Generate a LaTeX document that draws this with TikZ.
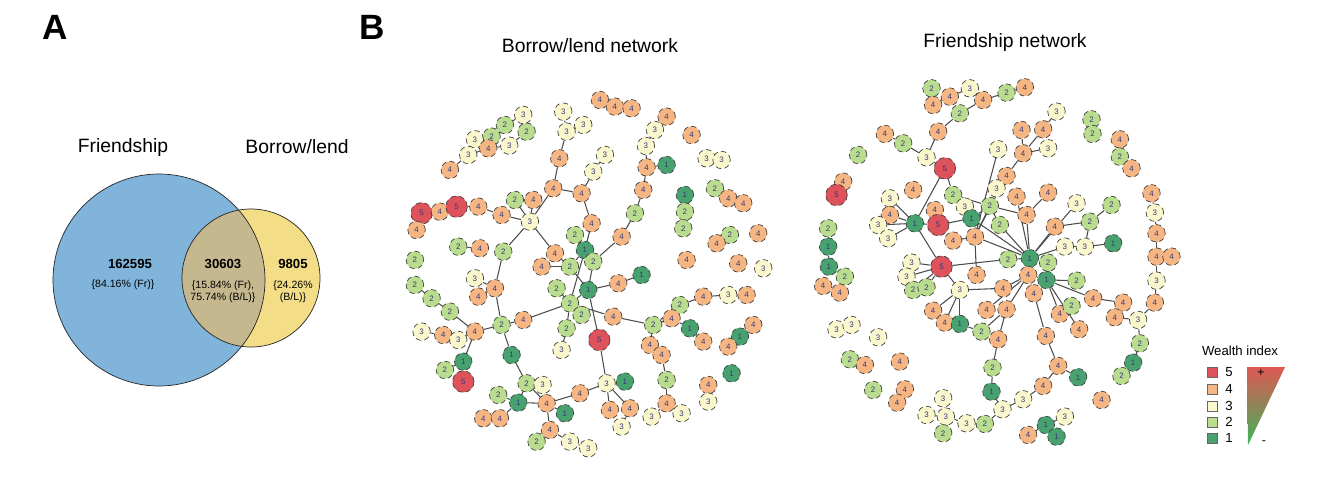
\documentclass[tikz,border=0pt]{standalone}
\usepackage{fontspec}
\setmainfont{Liberation Sans}
\usetikzlibrary{backgrounds}
\definecolor{frblue}{RGB}{128,180,218}
\definecolor{blyellow}{RGB}{243,221,135}
\definecolor{overlap}{RGB}{198,184,142}
\definecolor{wfive}{RGB}{222,82,92}
\definecolor{wfour}{RGB}{245,182,132}
\definecolor{wthree}{RGB}{250,247,205}
\definecolor{wtwo}{RGB}{186,220,142}
\definecolor{wone}{RGB}{72,162,112}
\definecolor{numink}{RGB}{55,55,120}
\tikzset{
  wbase/.style={circle, draw=black!75, densely dashed, thin, inner sep=0pt,
                minimum size=0.35cm, text=numink, font=\fontsize{4.5}{5}\selectfont},
  w1/.style={wbase, fill=wone},
  w2/.style={wbase, fill=wtwo},
  w3/.style={wbase, fill=wthree},
  w4/.style={wbase, fill=wfour},
  w5/.style={wbase, fill=wfive, minimum size=0.43cm},
  link/.style={draw=black!70, line width=0.6pt},
  keybox/.style={draw=black!60, minimum size=0.2cm, inner sep=0pt},
}
\begin{document}
\begin{tikzpicture}[x=0.02cm, y=-0.02cm]
\useasboundingbox (0,0) rectangle (1342,484);
% panel letters and titles
\node[font=\bfseries\fontsize{20}{22}\selectfont] (lblA) at (55,27) {A};
\node[font=\bfseries\fontsize{20}{22}\selectfont] (lblB) at (372,27) {B};
\node[font=\fontsize{11}{12}\selectfont] (ttlBL) at (590,46) {Borrow/lend network};
\node[font=\fontsize{11}{12}\selectfont] (ttlFR) at (1005,42) {Friendship network};

% Venn diagram
\fill[frblue] (159,280) circle[radius=106];
\fill[blyellow] (251,278) circle[radius=69];
\begin{scope}
  \clip (159,280) circle[radius=106];
  \fill[overlap] (251,278) circle[radius=69];
\end{scope}
\draw[black!85] (159,280) circle[radius=106];
\draw[black!85] (251,278) circle[radius=69];
\node[font=\fontsize{11}{12}\selectfont] (vFr) at (123,147) {Friendship};
\node[font=\fontsize{11}{12}\selectfont] (vBl) at (297,147) {Borrow/lend};
\node[font=\bfseries\fontsize{7.5}{8}\selectfont] (nFr) at (130,264) {162595};
\node[font=\bfseries\fontsize{7.5}{8}\selectfont] (nBoth) at (223,264) {30603};
\node[font=\bfseries\fontsize{7.5}{8}\selectfont] (nBl) at (293,264) {9805};
\node[font=\fontsize{6}{7}\selectfont] (pFr) at (123,285) {\{84.16\% (Fr)\}};
\node[font=\fontsize{6}{7}\selectfont, align=center] (pBoth) at (223,292) {\{15.84\% (Fr),\\75.74\% (B/L)\}};
\node[font=\fontsize{6}{7}\selectfont, align=center] (pBl) at (293,292) {\{24.26\%\\(B/L)\}};

% borrow/lend network
\begin{scope}[shift={(8cm,-1.6cm)}, x=0.006667cm, y=-0.006667cm]
\foreach \n/\x/\y/\v in {
  a1/370/105/3, a2/315/135/2, a3/380/155/2, a4/225/178/3, a5/275/170/2, a6/328/197/3,
  a7/265/205/4, a8/205/225/3, a9/150/270/4,
  b1/490/95/3, b2/500/155/3, b3/550/135/3, b4/478/235/4, b5/460/325/4, b6/545/340/4,
  b7/580/275/3, b8/615/225/3,
  c1/600/60/4, c2/645/80/4, c3/695/85/4,
  d1/800/110/4, d2/765/150/3, d3/738/198/3, d4/740/262/4, d5/800/255/1, d6/730/330/4,
  d7/705/400/2, d8/665/470/4,
  e1/875/165/4, e2/920/235/3, e3/965/240/3, e4/945/325/2, e5/985/355/4, e6/1030/370/4,
  e7/855/345/1, e8/855/395/2, e9/850/445/2, e10/990/465/2, e11/950/490/4, e12/1075/460/4,
  e13/860/540/4, e14/1015/550/4, e15/1090/565/3,
  f1/65/400/5, f2/120/395/4, f3/170/380/5, f4/235/380/4, f5/305/405/4, f6/50/450/4,
  f7/390/425/3, f8/345/360/2, f9/400/360/4, f10/45/540/2,
  g1/175/500/2, g2/240/505/4, g3/310/515/2,
  h1/575/430/4, h2/525/465/2, h3/555/510/1, h4/465/520/4, h5/425/560/4, h6/510/560/2,
  h7/580/545/2, h9/470/625/2, h10/565/630/1, h11/655/610/4, h12/725/585/1,
  h13/510/670/2, h14/545/705/2, h15/500/745/2, h16/485/810/3, h17/598/780/5, h18/640/710/4,
  i1/225/595/3, i2/285/625/4, i3/235/650/4, i4/45/615/2, i5/95/655/2, i6/150/695/2,
  i7/225/755/4, i8/305/735/2, i9/370/720/4, i10/65/755/3, i11/130/765/4, i12/175/780/3,
  i13/190/845/1, i14/135/870/2, i15/190/905/5, i16/335/825/1,
  j1/840/675/2, j2/910/650/4, j3/985/645/3, j4/1040/645/4, j5/760/735/2, j6/815/715/4,
  j7/870/745/1, j8/910/785/4, j9/750/795/4, j10/785/825/4, j11/800/900/2, j12/800/970/4,
  j13/845/1000/3, j14/1060/735/4, j15/1020/770/1, j16/985/800/4, j17/995/880/1,
  j18/925/915/4, j19/925/965/3,
  k1/380/910/2, k2/428/915/3, k3/440/970/4, k4/295/945/2, k5/355/968/1, k6/250/1015/4,
  k7/300/1015/4, k8/495/1000/1, k9/540/940/4, k10/620/910/3, k11/675/905/1, k12/630/990/4,
  k13/690/985/4, k14/665/1040/3, k15/755/1010/3, k16/450/1050/4, k17/410/1085/2,
  k18/510/1085/3, k19/565/1105/3}
  \node[w\v] (\n) at (\x,\y) {\v};
\begin{scope}[on background layer]
\foreach \a/\b in {a1/a2, a2/a7, a3/a6, a4/a7, a5/a7, a6/a7, a7/a8, a8/a9,
  b1/b2, b2/b3, b2/b4, b4/b5, b5/b6, b6/b7, b7/b8, b5/f7, b6/h1, h1/h3,
  c1/c2, c2/c3, d1/d2, d2/d3, d3/d4, d4/d5, d4/d6, d6/d7, d7/d8, d8/h7,
  e2/e3, e4/e5, e5/e6, e7/e8, e8/e9, e10/e11,
  f1/f2, f2/f3, f3/f4, f4/f5, f5/f7, f1/f6, f8/f7, f9/f7, f7/g3, f7/h4, g1/g2, g3/i2,
  i2/i1, i2/i3, i2/i8, i8/i9, i9/h13, i8/i7, i7/i6, i6/i5, i5/i4, i7/i12, i11/i10,
  i11/i12, i7/i13, i13/i14, i13/i15, i8/i16, i16/k1, k1/k5, k1/k3, k2/k3, k4/k5,
  k5/k3, k6/k7, k7/k5, k3/k8, k3/k9, k3/k16, k16/k17, k16/k18, k18/k19, k9/k10,
  k10/k11, k10/k12, k10/k13, k13/k14, k10/h17, h17/h10, h10/h6, h10/h7, h10/h11,
  h11/h12, h10/h13, h13/h14, h13/h9, h13/h15, h15/h16, h4/h6, h5/h6, h6/h3, h2/h3,
  h3/h13, h13/h18, h18/j5, j5/j6, j6/j7, j7/j8, j5/j9, j9/j10, j10/j11, j11/j12,
  j12/j13, j12/k15, j5/j1, j1/j2, j2/j3, j14/j15, j15/j16, j18/j19}
  \draw[link] (\a) -- (\b);
\end{scope}
\end{scope}

% friendship network
\begin{scope}[shift={(16.2cm,-1.4cm)}, x=0.006667cm, y=-0.006667cm]
\foreach \n/\x/\y/\v in {
  p1/365/55/2, p2/370/105/4, p3/420/80/4, p4/480/55/3, p5/520/90/4, p6/590/68/2,
  p7/645/52/4, p8/450/130/2, p9/385/185/4, p10/350/262/3, p11/280/220/2, p12/225/192/4,
  p13/405/295/5,
  q1/740/125/3, q2/700/178/4, q3/635/180/4, q4/715/235/3, q5/640/250/4, q6/565/238/3,
  q7/590/318/4, q8/560/355/3, q9/620/380/4, q10/715/368/4, q11/650/435/4, q12/845/148/2,
  q13/848/192/2, q14/930/208/4, q15/930/260/2, q16/965/295/4,
  r1/145/255/2, r2/100/335/4, r3/80/375/5,
  s1/310/360/4, s2/430/375/2, s3/240/385/3, s4/240/435/4, s5/205/465/3, s6/235/505/3,
  s7/315/460/1, s8/375/420/4, s9/385/465/5, s10/465/410/3, s11/485/445/1, s12/540/408/2,
  s13/570/465/2, s14/430/512/4, s15/495/500/4,
  t1/800/400/3, t2/905/405/2, t3/840/455/2, t4/735/470/4, t5/765/530/3, t6/825/530/3,
  t7/910/520/1,
  u1/1025/370/4, u2/1035/428/3, u3/1040/490/4, u4/1040/560/4, u5/1085/560/4, u6/1040/632/3,
  u7/1035/698/4, u8/985/750/3, u9/990/820/2, u10/970/878/1, u11/935/918/2,
  v1/55/475/2, v2/55/530/1, v3/57/590/1, v4/105/620/2, v5/40/648/4, v6/90/668/4,
  w1/595/568/2, w2/660/565/1, w3/715/578/2, w4/655/615/4, w5/710/630/1, w6/800/632/2,
  w7/395/590/5, w8/305/578/3, w9/290/620/3, w10/310/660/2, w11/350/652/2, w12/450/660/3,
  w13/500/615/4, w14/580/655/4, w15/672/670/4,
  x1/370/722/4, x2/405/758/4, x3/450/762/1, x4/515/785/2, x5/530/720/4, x6/590/718/4,
  x7/565/808/4, x8/750/732/4, x9/785/708/2, x10/808/778/4, x11/850/685/4, x12/940/698/4,
  x13/915/742/4, x14/708/798/4,
  y1/548/893/2, y2/545/965/1, y3/578/1018/3, y4/640/988/3, y5/700/948/4, y6/745/888/4,
  y7/805/922/1, y8/525/1062/2, y9/470/1060/3, y10/408/1040/3, y11/350/1035/3,
  y12/400/985/3, y13/400/1090/2, y14/875/990/4, y15/765/1040/3, y16/708/1065/1,
  y17/740/1100/1, y18/655/1095/4,
  z1/80/778/3, z2/125/765/3, z3/205/802/3, z4/120/868/2, z5/165/885/4, z6/270/875/4,
  z7/190/960/2, z8/285/958/4, z9/262/998/4}
  \node[w\v] (\n) at (\x,\y) {\v};
\begin{scope}[on background layer]
\foreach \a/\b in {p2/p3, p3/p4, p5/p8, p5/p6, p6/p7, p8/p9, p9/p10, p10/p11,
  p11/p12, p10/p13, p13/s2, s2/s10, s2/s12, p13/s7,
  q1/q2, q2/q5, q3/q5, q4/q5, q5/q7, q7/q8, q7/s15, q6/s15, q9/w2, q10/q11, q11/s12,
  q11/w2, q13/q12, q14/q15, q15/q16, r2/r3,
  s3/s7, s4/s7, s5/s7, s6/s7, s7/s9, s7/w7, s8/s9, s9/s11, s11/s12, s11/w2, s12/s13,
  s13/w2, s14/s15, s15/w13, s15/s12, s15/w2, w7/w1, w1/w2, w2/w3, w2/w4, w4/w5, w5/w6,
  w5/x11, w5/x8, w5/x10, w7/w8, w7/w9, w7/w10, w7/w11, w7/w12, w12/x1, w12/x2, w12/x3,
  w12/w14, w14/w4, x3/x4, x4/x6, x6/w4, x5/w4, x7/x6, x7/y1, y1/y2, y2/y3, y3/y4,
  y4/y5, y5/y6, y6/y7, y6/x14, x14/w15, w15/w4, x11/x12, x12/x13, x13/u8, u8/u7,
  u7/u6, u6/u4, u4/u3, u3/u2, u2/u1, u4/u5, u8/u9, u9/u10, u10/u11, y3/y8, y8/y9,
  y9/y10, y10/y11, y10/y12, y10/y13, y16/y15, y16/y17, y16/y18, t2/t3, t3/t4, t4/w2,
  t1/w2, t3/t6, t6/t7, t5/t6, t5/w2, v1/v2, v2/v3, v3/v4, v4/v6, v5/v6, z1/z2, z4/z5,
  z8/z9, x8/x9}
  \draw[link] (\a) -- (\b);
\end{scope}
\end{scope}

% legend
\node[font=\fontsize{7.5}{8}\selectfont] (keyttl) at (1240,351) {Wealth index};
\foreach \v/\c/\y in {5/wfive/372, 4/wfour/389, 3/wthree/406, 2/wtwo/422, 1/wone/438} {
  \node[keybox, fill=\c] (key\v) at (1212,\y) {};
  \node[right=1pt, font=\fontsize{7.5}{8}\selectfont] (keytxt\v) at (key\v.east) {\v};
}
\begin{scope}
  \clip (1247,367) -- (1285,367) -- (1248,445) -- cycle;
  \shade[top color=wfive!90!orange, middle color=wthree, bottom color=wone!80!green]
    (1245,365) rectangle (1287,447);
\end{scope}
\node[font=\fontsize{7}{8}\selectfont] (keyplus) at (1261,373) {+};
\node[font=\fontsize{7}{8}\selectfont] (keyminus) at (1264,443) {-};
\end{tikzpicture}
\end{document}
